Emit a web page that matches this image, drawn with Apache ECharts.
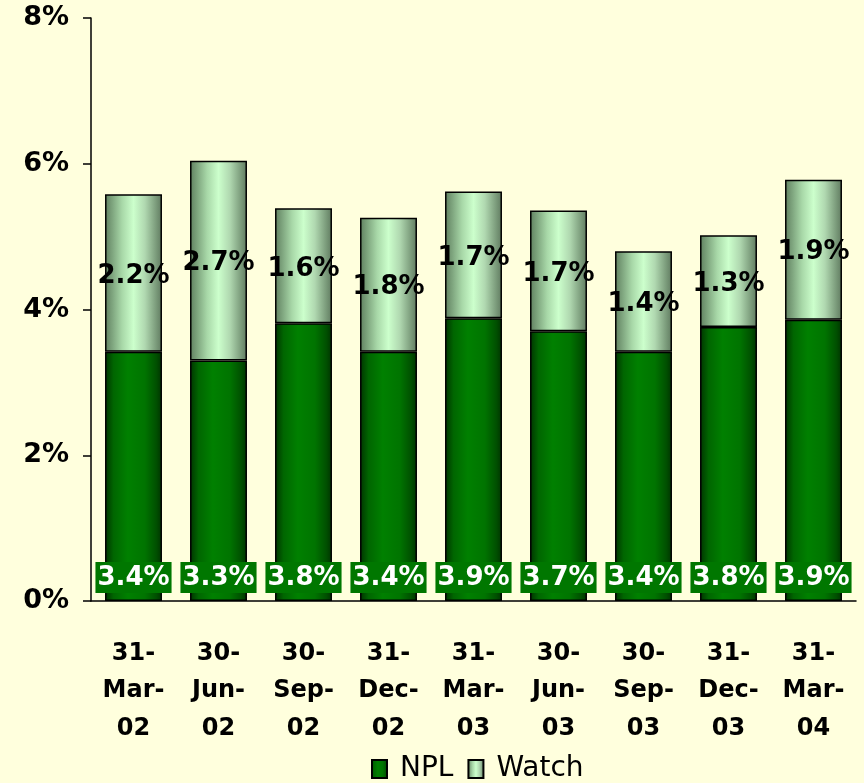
<!DOCTYPE html>
<html>
<head>
<meta charset="utf-8">
<script src="https://cdn.jsdelivr.net/npm/echarts@6/dist/echarts.min.js"></script>
<style>
  html, body { margin: 0; padding: 0; background: #FFFFDD; }
  #chart { width: 864px; height: 783px; }
</style>
</head>
<body>
<div id="chart"></div>
<script>
// quarter end dates
const categories = ['31-\nMar-\n02', '30-\nJun-\n02', '30-\nSep-\n02', '31-\nDec-\n02', '31-\nMar-\n03', '30-\nJun-\n03', '30-\nSep-\n03', '31-\nDec-\n03', '31-\nMar-\n04']
const nplValues = [3.42, 3.3, 3.81, 3.42, 3.88, 3.7, 3.42, 3.76, 3.86]
const watchValues = [2.16, 2.74, 1.58, 1.84, 1.74, 1.66, 1.38, 1.26, 1.92]
const yTicks = [0, 2, 4, 6, 8]

const font = 'DejaVu Sans, Verdana, sans-serif'

const nplFill = new echarts.graphic.LinearGradient(0, 0, 1, 0, [
  { offset: 0, color: '#003300' },
  { offset: 0.15, color: '#006600' },
  { offset: 0.4, color: '#008000' },
  { offset: 0.7, color: '#007400' },
  { offset: 0.9, color: '#005000' },
  { offset: 1, color: '#003300' }
])
const watchFill = new echarts.graphic.LinearGradient(0, 0, 1, 0, [
  { offset: 0, color: '#5f7f5f' },
  { offset: 0.3, color: '#a8d8a8' },
  { offset: 0.5, color: '#ccffcc' },
  { offset: 0.7, color: '#b0d8b0' },
  { offset: 0.9, color: '#7a9a7a' },
  { offset: 1, color: '#607a60' }
])

const chart = echarts.init(document.getElementById('chart'))
chart.setOption({
  backgroundColor: '#FFFFDD',
  animation: false,
  textStyle: { fontFamily: font },
  grid: { left: 91, right: 8, top: 18, bottom: 182 },
  legend: {
    left: 366,
    bottom: -5,
    icon: 'rect',
    itemWidth: 15,
    itemHeight: 18,
    itemGap: 14,
    textStyle: { fontSize: 28, color: '#000', fontFamily: font, padding: [0, 0, 0, 8] },
    data: ['NPL', 'Watch']
  },
  xAxis: {
    type: 'category',
    data: categories,
    axisLine: { lineStyle: { color: '#000', width: 1.5 } },
    axisTick: { length: 8, lineStyle: { color: '#000', width: 1.5 } },
    axisLabel: {
      color: '#000', fontWeight: 'bold', fontSize: 24, lineHeight: 37.5,
      margin: 34, interval: 0, fontFamily: font
    }
  },
  yAxis: {
    type: 'value',
    min: yTicks[0],
    max: yTicks[yTicks.length - 1],
    interval: 2,
    axisLine: { show: true, lineStyle: { color: '#000', width: 1.5 } },
    axisTick: { show: true, length: 8, lineStyle: { color: '#000', width: 1.5 } },
    splitLine: { show: false },
    axisLabel: {
      color: '#000', fontWeight: 'bold', fontSize: 27, margin: 22,
      fontFamily: font,
      formatter: v => v + '%'
    }
  },
  series: [{
    name: 'NPL',
    type: 'bar',
    stack: 'total',
    barCategoryGap: '33%',
    data: nplValues,
    itemStyle: { color: nplFill, borderColor: '#000', borderWidth: 1.5 },
    label: {
      show: true,
      position: 'insideBottom',
      distance: 8,
      formatter: p => p.value.toFixed(1) + '%',
      color: '#fff',
      fontWeight: 'bold',
      fontSize: 26,
      fontFamily: font,
      backgroundColor: '#007700',
      padding: [3, 2, 2, 2]
    }
  }, {
    name: 'Watch',
    type: 'bar',
    stack: 'total',
    data: watchValues,
    itemStyle: { color: watchFill, borderColor: '#000', borderWidth: 1.5 },
    label: {
      show: true,
      position: 'inside',
      offset: [0, 3],
      formatter: p => p.value.toFixed(1) + '%',
      color: '#000',
      fontWeight: 'bold',
      fontSize: 26,
      fontFamily: font
    }
  }]
})
</script>
</body>
</html>
